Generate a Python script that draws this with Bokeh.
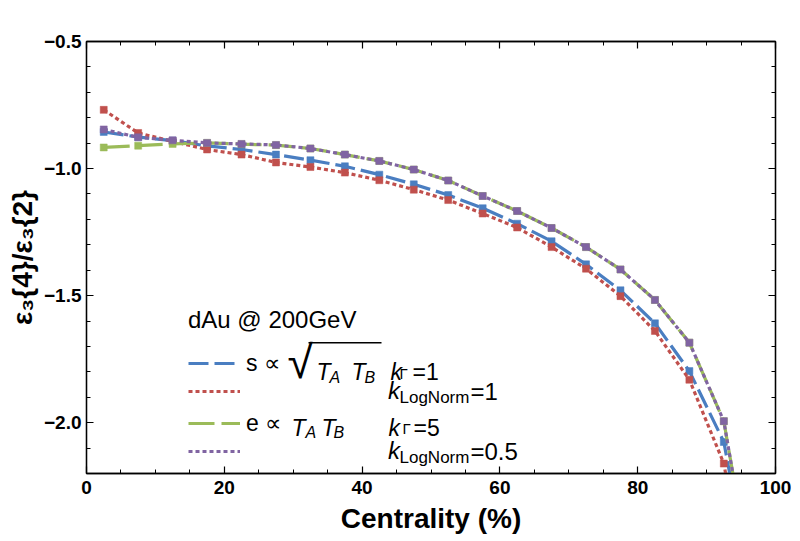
from bokeh.plotting import figure
from bokeh.models import (Range1d, SingleIntervalTicker, LinearAxis, Legend, LegendItem,
                          Label, BoxAnnotation, CustomJSTickFormatter, CustomLabelingPolicy)
from bokeh.embed import file_html
from bokeh.resources import INLINE

# ---------------- data ----------------
centrality = [2.5, 7.5, 12.5, 17.5, 22.5, 27.5, 32.5, 37.5, 42.5, 47.5,
              52.5, 57.5, 62.5, 67.5, 72.5, 77.5, 82.5, 87.5, 92.5, 97.5]

s_sqrt_kgamma1 = [-0.856, -0.876, -0.890, -0.911, -0.925, -0.945, -0.967, -0.991, -1.024, -1.062,
                  -1.104, -1.156, -1.217, -1.286, -1.377, -1.479, -1.609, -1.797, -2.076, -2.80]
s_sqrt_klognorm1 = [-0.769, -0.860, -0.893, -0.925, -0.945, -0.976, -0.994, -1.016, -1.046, -1.083,
                    -1.124, -1.177, -1.232, -1.309, -1.394, -1.502, -1.639, -1.831, -2.161, -2.90]
e_tatb_kgamma5 = [-0.917, -0.910, -0.903, -0.899, -0.904, -0.908, -0.921, -0.945, -0.970, -1.004,
                  -1.047, -1.108, -1.167, -1.234, -1.309, -1.397, -1.517, -1.685, -1.994, -2.78]
e_tatb_klognorm05 = [-0.846, -0.877, -0.889, -0.899, -0.903, -0.907, -0.921, -0.945, -0.970, -1.004,
                     -1.047, -1.108, -1.167, -1.234, -1.309, -1.397, -1.517, -1.685, -1.994, -2.78]

x_ticks_interval = 20
y_ticks_interval = 0.5

BLUE = "#4A7EC1"
RED = "#C0504D"
GREEN = "#9BBB59"
PURPLE = "#8064A2"
FONT = "Liberation Sans"

# ---------------- figure ----------------
p = figure(width=800, height=541, x_range=Range1d(0, 100), y_range=Range1d(-2.2, -0.5),
           output_backend="svg", toolbar_location=None,
           min_border_left=86, min_border_right=18, min_border_top=41, min_border_bottom=68)
p.grid.visible = False
p.outline_line_color = "black"
p.outline_line_width = 1.3
p.background_fill_color = "white"
p.border_fill_color = "white"

hide_all = CustomLabelingPolicy(code="""
for (const i of indices) { indices.unset(i) }
return indices
""")


def style_axis(ax, labels=True):
    ax.axis_line_color = "black"
    ax.axis_line_width = 1.3
    ax.major_tick_in = 7
    ax.major_tick_out = 0
    ax.minor_tick_in = 4
    ax.minor_tick_out = 0
    ax.major_tick_line_color = "black"
    ax.minor_tick_line_color = "black"
    ax.major_tick_line_width = 1.2
    ax.minor_tick_line_width = 1.0
    if labels:
        ax.major_label_text_font = FONT
        ax.major_label_text_font_style = "bold"
        ax.major_label_text_font_size = "19px"
        ax.major_label_text_color = "black"
    else:
        ax.major_label_policy = hide_all
        ax.major_label_standoff = 0


p.xaxis.ticker = SingleIntervalTicker(interval=x_ticks_interval, num_minor_ticks=4)
p.yaxis.ticker = SingleIntervalTicker(interval=y_ticks_interval, num_minor_ticks=5)
p.yaxis.formatter = CustomJSTickFormatter(
    code="return (tick < 0 ? '\\u2212' : '') + Math.abs(tick).toFixed(1);")
for ax in (p.xaxis[0], p.yaxis[0]):
    style_axis(ax)

p.xaxis.axis_label = "Centrality (%)"
p.yaxis.axis_label = "\u03b5\u2083{4}/\u03b5\u2083{2}"
for ax in (p.xaxis[0], p.yaxis[0]):
    ax.axis_label_text_font = FONT
    ax.axis_label_text_font_style = "bold"
    ax.axis_label_text_font_size = "28px"
    ax.axis_label_text_color = "black"
p.xaxis.major_label_standoff = 7
p.xaxis.axis_label_standoff = 6
p.yaxis.major_label_standoff = 5
p.yaxis.axis_label_standoff = 3

top_ax = LinearAxis(ticker=SingleIntervalTicker(interval=x_ticks_interval, num_minor_ticks=4))
style_axis(top_ax, labels=False)
p.add_layout(top_ax, "above")
right_ax = LinearAxis(ticker=SingleIntervalTicker(interval=y_ticks_interval, num_minor_ticks=5))
style_axis(right_ax, labels=False)
p.add_layout(right_ax, "right")

# ---------------- series ----------------
series = [
    (s_sqrt_kgamma1, BLUE, "20 6"),
    (s_sqrt_klognorm1, RED, "4 3"),
    (e_tatb_kgamma5, GREEN, "26 7"),
    (e_tatb_klognorm05, PURPLE, "4 3"),
]
line_renderers = []
for ys, col, dash in series:
    r = p.line(centrality, ys, line_color=col, line_width=3.2, line_dash=dash)
    p.scatter(centrality, ys, marker="square", size=7, fill_color=col, line_color=col,
              line_width=0.5)
    line_renderers.append(r)

# ---------------- legends ----------------
common = dict(glyph_width=52, glyph_height=30, label_height=30, spacing=30, padding=0,
              margin=0, border_line_color=None, background_fill_alpha=0,
              label_text_font=FONT, label_text_color="black")
legend_a = Legend(
    items=[LegendItem(label="s \u221d", renderers=[line_renderers[0]]),
           LegendItem(label="e \u221d", renderers=[line_renderers[2]])],
    location=(102, 35),
    title="dAu @ 200GeV", title_text_font=FONT, title_text_font_size="24px",
    title_text_font_style="normal", title_text_color="black", title_standoff=14,
    label_text_font_size="23px", label_text_baseline="middle", label_standoff=6, **common)
legend_b = Legend(
    items=[LegendItem(label="k", renderers=[line_renderers[1]]),
           LegendItem(label="k", renderers=[line_renderers[3]])],
    location=(102, 7),
    label_text_font_size="24px", label_text_font_style="italic",
    label_text_baseline="alphabetic", label_standoff=148, **common)
p.add_layout(legend_a)
p.add_layout(legend_b)


def lab(text, x, y, size, style="normal"):
    p.add_layout(Label(x=x, y=y, x_units="screen", y_units="screen", text=text,
                       text_font=FONT, text_font_size=f"{size}px", text_font_style=style,
                       text_color="black", text_baseline="alphabetic", text_align="left"))


# row 1: sqrt(T_A T_B)   k_Γ = 1
lab("\u221a", 201, 112, 46)
p.add_layout(BoxAnnotation(left=222, right=295, top=131.5, bottom=130,
                           left_units="screen", right_units="screen",
                           top_units="screen", bottom_units="screen",
                           fill_color="black", fill_alpha=1, line_alpha=0))
lab("T", 230, 102, 23, "italic")
lab("A", 243, 96.5, 16, "italic")
lab("T", 265, 102, 23, "italic")
lab("B", 278, 96.5, 16, "italic")
lab("k", 304, 102, 23, "italic")
lab("\u0393", 313, 100.5, 15)
lab("=1", 326, 102, 23)

# row 2: subscript of k_LogNorm = 1
lab("LogNorm", 313, 76, 17)
lab("=1", 384, 82.3, 24)

# row 3: T_A T_B   k_Γ = 5
lab("T", 205, 46, 23, "italic")
lab("A", 219, 40.7, 16, "italic")
lab("T", 235, 46, 23, "italic")
lab("B", 247, 40.7, 16, "italic")
lab("k", 302, 46, 23, "italic")
lab("\u0393", 316, 44.7, 15)
lab("=5", 327, 46, 23)

# row 4: subscript of k_LogNorm = 0.5
lab("LogNorm", 313, 15.9, 17)
lab("=0.5", 384, 22.3, 24)

open("out.html", "w").write(file_html(p, INLINE))
